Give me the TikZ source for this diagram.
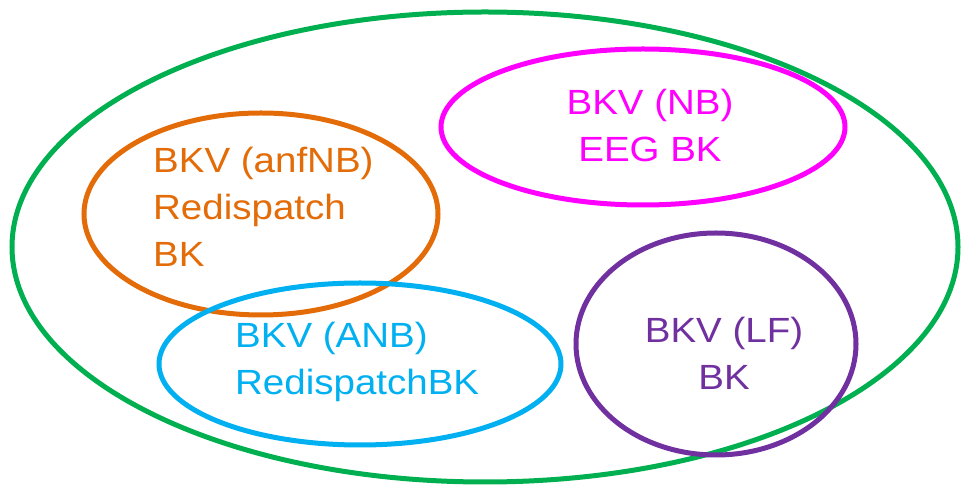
\documentclass[tikz,border=0pt]{standalone}
\usepackage{fontspec}
\setmainfont{Liberation Sans}[FakeStretch=1.1]
\definecolor{cgreen}{HTML}{00B050}
\definecolor{corange}{HTML}{E36C09}
\definecolor{cmag}{HTML}{FF00FF}
\definecolor{ccyan}{HTML}{00B0F0}
\definecolor{cpurple}{HTML}{7030A0}
\begin{document}
\begin{tikzpicture}[x=1pt,y=1pt,
  ring/.style={line width=5pt},
  lbl/.style={inner sep=0pt,font=\fontsize{35}{47}\selectfont}]
\useasboundingbox (0,0) rectangle (962,487);
\fill[white] (0,0) rectangle (962,487);
\draw[ring,cgreen] (485,240) ellipse [x radius=473, y radius=235];
\draw[ring,corange] (261,273) ellipse [x radius=177, y radius=101];
\draw[ring,cmag] (643,360) ellipse [x radius=202, y radius=78];
\draw[ring,ccyan] (360,123) ellipse [x radius=201, y radius=81];
\draw[ring,cpurple] (716,143) ellipse [x radius=140, y radius=111];
\node[lbl,corange,align=left,anchor=base west] (o) at (153,220) {BKV (anfNB)\\Redispatch\\BK};
\node[lbl,cmag,align=center,anchor=base] (m) at (650,325) {BKV (NB)\\EEG BK};
\node[lbl,ccyan,align=left,anchor=base west] (c) at (235,92) {BKV (ANB)\\RedispatchBK};
\node[lbl,cpurple,align=center,anchor=base] (p) at (724,97) {BKV (LF)\\BK};
\end{tikzpicture}
\end{document}
